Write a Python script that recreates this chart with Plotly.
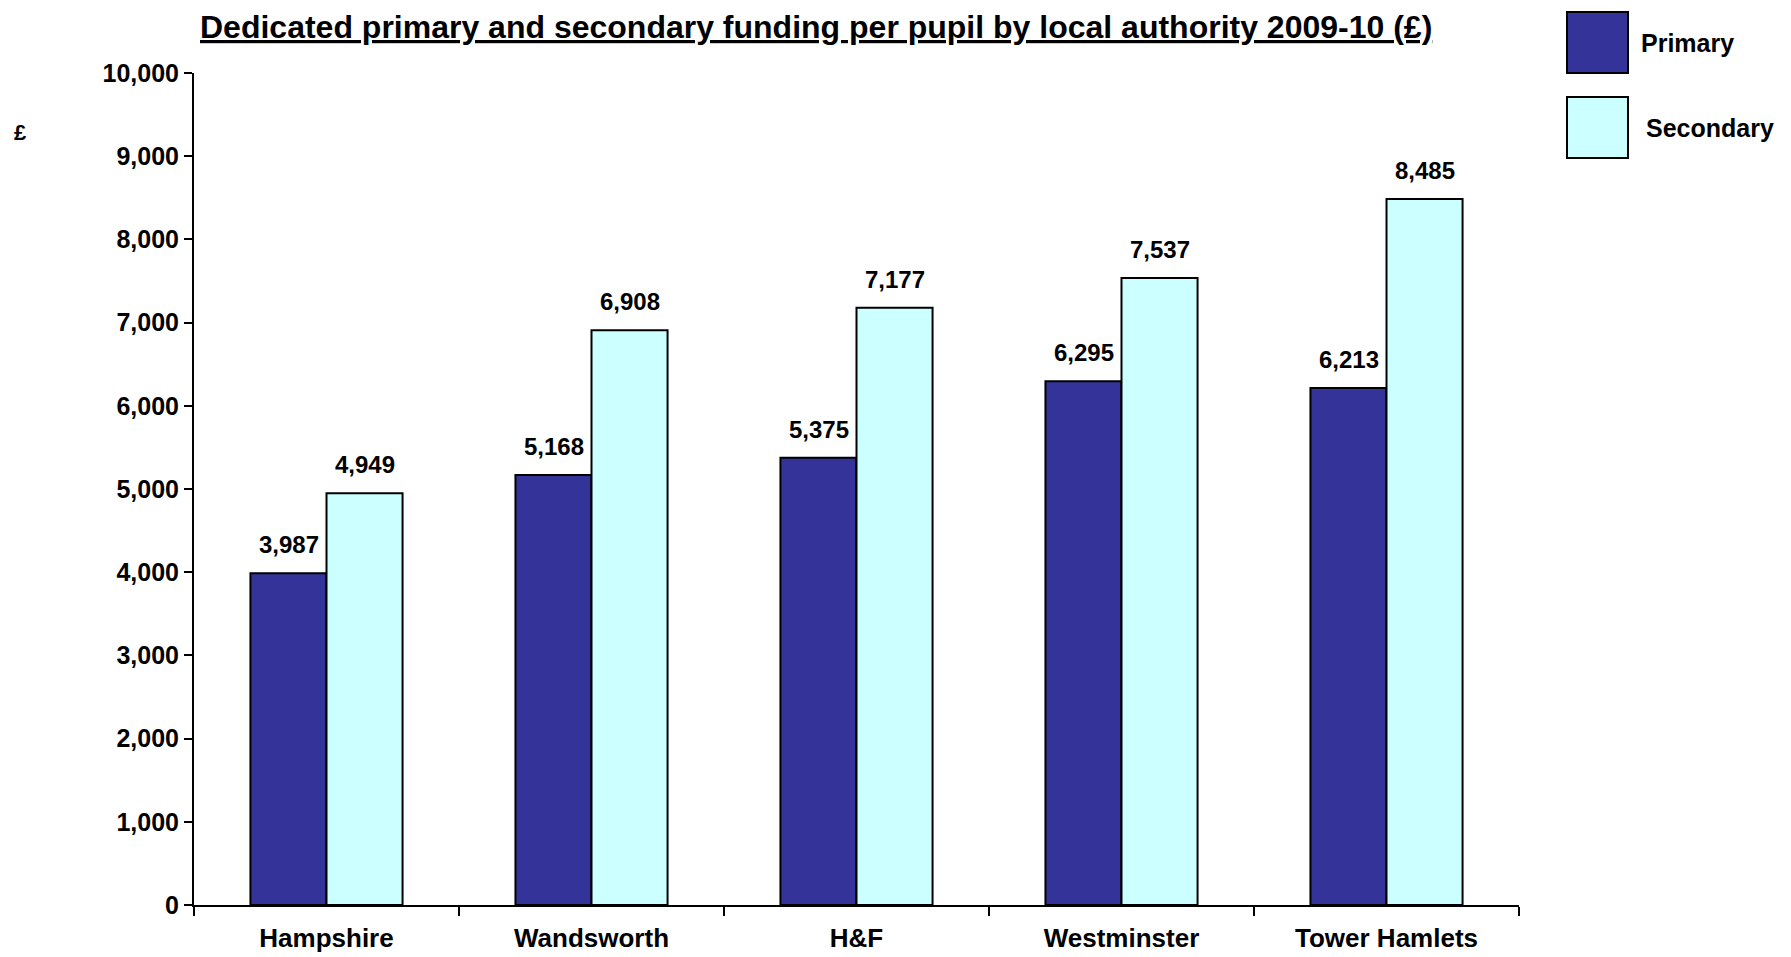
import plotly.graph_objects as go

categories = ["Hampshire", "Wandsworth", "H&F", "Westminster", "Tower Hamlets"]
primary = [3987, 5168, 5375, 6295, 6213]
secondary = [4949, 6908, 7177, 7537, 8485]
series_names = ["Primary", "Secondary"]
colors = ["#333399", "#CCFFFF"]
title_text = "Dedicated primary and secondary funding per pupil by local authority 2009-10 (£)"
y_ticks = list(range(0, 10001, 1000))

FONT = "Liberation Sans, Arial, sans-serif"
OFF = 8  # default page body margin of the browser
W, H = 1791 - OFF, 957 - OFF

# plot-area box in screenshot pixels
X0, X1, Y0, Y1 = 194, 1519, 73, 905

fig = go.Figure()
for name, vals, col in zip(series_names, [primary, secondary], colors):
    fig.add_trace(go.Bar(
        x=categories, y=vals, name=name,
        marker=dict(color=col, line=dict(color="black", width=2)),
        showlegend=False,
    ))

# data labels
for k, vals in enumerate([primary, secondary]):
    shift = -38 if k == 0 else 38
    for c, v in zip(categories, vals):
        fig.add_annotation(
            x=c, y=v, xref="x", yref="y", text=f"<b>{v:,}</b>",
            showarrow=False, yanchor="bottom", xanchor="center",
            xshift=shift, yshift=13,
            font=dict(family=FONT, size=24, color="black"),
        )

fig.update_layout(
    width=W, height=H,
    margin=dict(l=X0 - OFF, r=(1791 - X1), t=Y0 - OFF, b=(957 - Y1), autoexpand=False),
    plot_bgcolor="white", paper_bgcolor="white",
    barmode="group", bargap=0.426, bargroupgap=0,
    font=dict(family=FONT, size=24, color="black"),
    xaxis=dict(
        type="category", tickson="boundaries", ticks="outside", ticklen=9,
        tickwidth=2, tickcolor="black", showline=True, linecolor="black",
        linewidth=2, showgrid=False, ticklabelstandoff=9,
        tickfont=dict(family=FONT, size=26, color="black", weight="bold"),
    ),
    yaxis=dict(
        range=[0, 10000], tickvals=y_ticks, tickformat=",", ticks="outside",
        ticklen=8, tickwidth=2, tickcolor="black", showline=True,
        linecolor="black", linewidth=2, showgrid=False, zeroline=False,
        tickfont=dict(family=FONT, size=25, color="black", weight="bold"),
    ),
)

pw = X1 - X0
ph = Y1 - Y0
def px(x):
    return (x - X0) / pw
def py(y):
    return (Y1 - y) / ph

# title (top of its box at the top edge of the figure)
fig.add_annotation(
    x=px(816), y=py(OFF), xref="paper", yref="paper",
    text=f"<b><u>{title_text}</u></b>",
    showarrow=False, xanchor="center", yanchor="top", borderpad=0,
    font=dict(family=FONT, size=32, color="black"),
)

# y-axis unit label
fig.add_annotation(
    x=px(20), y=py(132), xref="paper", yref="paper", text="<b>£</b>",
    showarrow=False, xanchor="center", yanchor="middle",
    font=dict(family=FONT, size=22, color="black"),
)

# legend (drawn manually)
legend_items = [(series_names[0], colors[0], 12, 73, 1639),
                (series_names[1], colors[1], 97, 158, 1644)]
for name, col, y0, y1, tx in legend_items:
    fig.add_shape(type="rect", xref="paper", yref="paper",
                  x0=px(1567), x1=px(1628), y0=py(y1), y1=py(y0),
                  fillcolor=col, line=dict(color="black", width=2))
    fig.add_annotation(
        x=px(tx), y=py((y0 + y1) / 2 + 1), xref="paper", yref="paper",
        text=f"<b>{name}</b>", showarrow=False, xanchor="left", yanchor="middle",
        font=dict(family=FONT, size=25, color="black"),
    )

fig.write_html("out.html")
